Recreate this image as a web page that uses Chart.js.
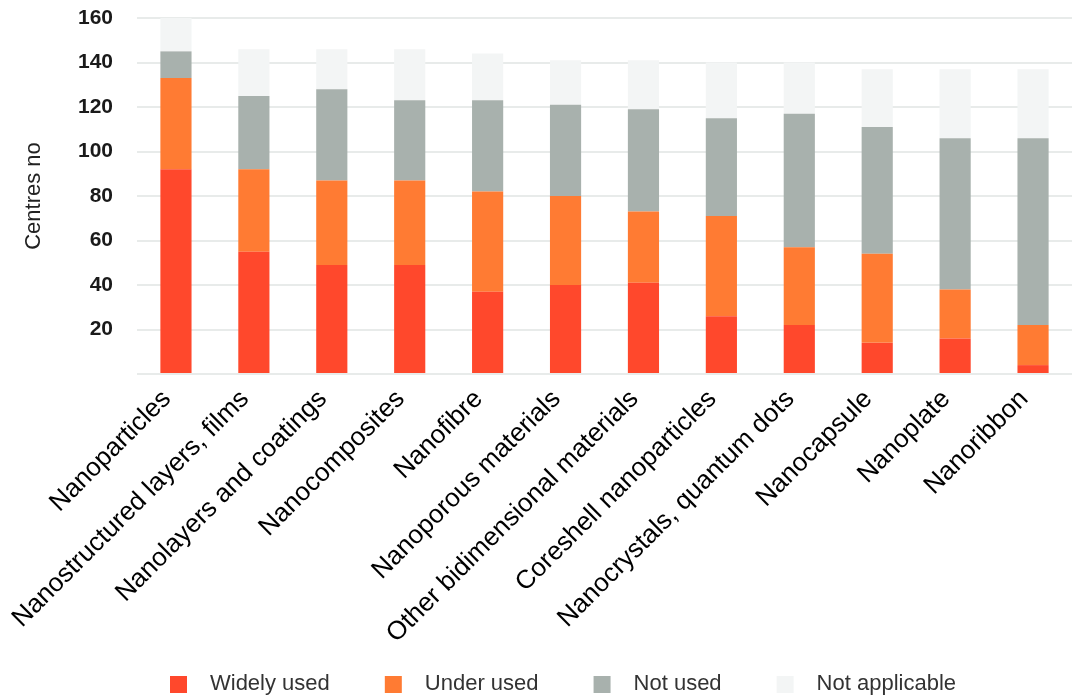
<!DOCTYPE html>
<html>
<head>
<meta charset="utf-8">
<script src="https://cdn.jsdelivr.net/npm/chart.js@4/dist/chart.umd.min.js"></script>
<style>
  html, body { margin: 0; padding: 0; background: #ffffff; overflow: hidden; }
  #wrap { position: relative; width: 1072px; height: 700px; }
</style>
</head>
<body>
<div id="wrap"><canvas id="c"></canvas></div>
<script>
const categories = [
  'Nanoparticles', 'Nanostructured layers, films', 'Nanolayers and coatings',
  'Nanocomposites', 'Nanofibre', 'Nanoporous materials', 'Other bidimensional materials',
  'Coreshell nanoparticles', 'Nanocrystals, quantum dots', 'Nanocapsule', 'Nanoplate', 'Nanoribbon'
];
const seriesNames = ['Widely used', 'Under used', 'Not used', 'Not applicable'];
const widelyUsed    = [92, 55, 49, 49, 37, 40, 41, 26, 22, 14, 16, 4];
const underUsed     = [41, 37, 38, 38, 45, 40, 32, 45, 35, 40, 22, 18];
const notUsed       = [12, 33, 41, 36, 41, 41, 46, 44, 60, 57, 68, 84];
const notApplicable = [15, 21, 18, 23, 21, 20, 22, 25, 23, 26, 31, 31];
const yTicks = [20, 40, 60, 80, 100, 120, 140, 160];

const colors = ['#ff482c', '#ff7b33', '#a8b1ad', '#f3f5f5'];
const seriesValues = [widelyUsed, underUsed, notUsed, notApplicable];

// legend swatch images (square placed at the right part of a wider box)
const LEG_BOX_W = 83, SQ_OFF = 54, SQ = 17;
function swatch(color) {
  const cv = document.createElement('canvas');
  cv.width = LEG_BOX_W; cv.height = SQ;
  const cx = cv.getContext('2d');
  cx.fillStyle = color;
  cx.fillRect(SQ_OFF, 0, SQ, SQ);
  return cv;
}
const swatches = colors.map(swatch);

const datasets = seriesNames.map((name, i) => ({
  label: name,
  data: seriesValues[i],
  backgroundColor: colors[i],
  borderWidth: 0,
  barPercentage: 0.4,
  categoryPercentage: 1.0
}));

new Chart(document.getElementById('c'), {
  type: 'bar',
  data: { labels: categories, datasets },
  options: {
    responsive: true,
    maintainAspectRatio: false,
    animation: false,
    layout: { padding: { top: 18, right: 0, bottom: -5, left: 0 } },
    plugins: {
      tooltip: { enabled: false },
      legend: {
        position: 'bottom',
        labels: {
          usePointStyle: true,
          pointStyleWidth: LEG_BOX_W,
          padding: 1,
          color: '#333333',
          font: { family: '"Liberation Sans", Arial, sans-serif', size: 22 },
          generateLabels(chart) {
            const items = Chart.defaults.plugins.legend.labels.generateLabels(chart);
            items.forEach((it, i) => { it.pointStyle = swatches[i]; });
            return items;
          }
        }
      }
    },
    scales: {
      x: {
        stacked: true,
        grid: { display: false, drawTicks: false },
        border: { display: false },
        ticks: {
          minRotation: 45, maxRotation: 45, autoSkip: false, padding: 10, labelOffset: -9,
          color: '#000000',
          font: { family: '"Liberation Sans", Arial, sans-serif', size: 26 }
        },
        afterFit(scale) { scale.height = 298; }
      },
      y: {
        stacked: true,
        min: 0, max: 160,
        afterBuildTicks(scale) { scale.ticks = [0].concat(yTicks).map(v => ({ value: v })); },
        grid: { color: '#e8ebea', lineWidth: 2, drawTicks: false },
        border: { display: false },
        ticks: {
          padding: 24,
          color: '#1a1a1a',
          font: { family: '"Liberation Sans", Arial, sans-serif', size: 21, weight: 'bold' },
          callback: (v) => (v === 0 ? '' : String(v))
        },
        title: {
          display: true,
          text: 'Centres no',
          color: '#222222',
          padding: { top: 21, bottom: 0 },
          font: { family: '"Liberation Sans", Arial, sans-serif', size: 22 }
        },
        afterFit(scale) {
          scale.width = 137;
          scale.paddingTop = 0;
          scale.paddingBottom = 0;
        }
      }
    }
  }
});
</script>
</body>
</html>
